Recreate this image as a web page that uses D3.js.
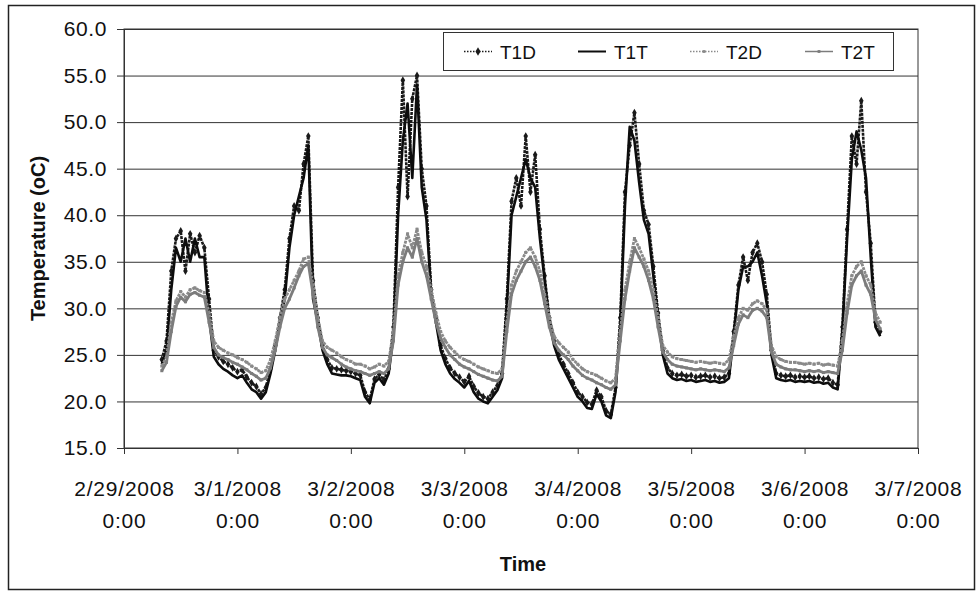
<!DOCTYPE html>
<html lang="en">
<head>
<meta charset="UTF-8" />
<title>Temperature</title>
<style>
body { margin: 0; background: #fff; }
#chart { display: block; }
text { font-family: "Liberation Sans", Arial, sans-serif; fill: #111; }
</style>
</head>
<body>
<svg id="chart" width="978" height="594"></svg>
<script src="https://cdnjs.cloudflare.com/ajax/libs/d3/7.8.5/d3.min.js"></script>
<script>
// hourly readings, first one at 2/29/2008 8:00, last at 3/6/2008 16:00
const startTime = new Date(2008, 1, 29, 8);
const seriesNames = ["T1D", "T1T", "T2D", "T2T"];
const yTicks = [15, 20, 25, 30, 35, 40, 45, 50, 55, 60];

const t1d = [
  24.5, 26.5, 34, 37.5, 38.3, 34, 38, 36, 37.8, 36.5, 31, 25.5, 24.8, 24.3, 24, 23.6,
  23.2, 23.4, 22.6, 22, 21.6, 20.8, 21.5, 23.5, 26, 29, 32, 37.5, 41, 40.5, 45.5, 48.5, 33, 29, 26, 24.5, 23.6, 23.5, 23.4, 23.3,
  23.2, 23, 22.8, 21, 20.2, 22.4, 22.9, 22.3, 23.5, 28, 43, 54.5, 42, 52.5, 55, 45, 41, 32, 29, 26, 24.6, 23.6, 23, 22.6,
  22.1, 22.7, 21.6, 20.9, 20.5, 20.3, 21, 21.7, 23, 31, 41.5, 44, 41, 48.5, 42.5, 46.5, 38.5, 33.5, 29, 26.5, 25, 24, 23, 22,
  21, 20.5, 19.9, 19.7, 21.2, 20.5, 19, 18.6, 21.5, 29, 42.5, 47.5, 51, 45.5, 40.5, 39, 34.5, 29.5, 25.5, 23.6, 23, 22.8, 22.9, 22.7,
  22.8, 22.6, 22.7, 22.8, 22.6, 22.7, 22.5, 22.6, 23, 27.5, 32.5, 35.5, 33, 36, 37, 35, 31.5, 25.5, 23, 22.8, 22.7, 22.8, 22.6, 22.7,
  22.6, 22.7, 22.5, 22.6, 22.4, 22.5, 22, 21.8, 28, 38.5, 48.5, 45.5, 52.3, 42.5, 37, 28.5, 27.5
];
const t1t = [
  24, 25.5, 32, 36.5, 35, 37.5, 35, 37.5, 35.5, 35.5, 29, 24.8, 24, 23.5, 23.2, 22.8,
  22.5, 22.8, 22, 21.3, 21, 20.3, 21, 23, 25.5, 28.5, 31, 36.5, 40, 42, 44, 47.5, 31, 28.5, 25.5, 24, 23, 22.9, 22.8, 22.8,
  22.7, 22.5, 22.3, 20.5, 19.8, 22, 22.5, 21.8, 23, 27, 40, 48, 52, 44, 54, 43, 39.5, 31.5, 28.5, 25.5, 24, 23, 22.4, 22,
  21.5, 22.2, 21, 20.3, 20, 19.8, 20.5, 21.2, 22.5, 30, 40, 42, 44, 46, 44, 43, 37.5, 33, 28.5, 26, 24.5, 23.5, 22.5, 21.5,
  20.5, 20, 19.3, 19.2, 20.8, 20, 18.5, 18.2, 21, 28, 41, 49.5, 48, 43.5, 39.5, 38, 33.5, 29, 25, 23, 22.5, 22.3, 22.4, 22.2,
  22.3, 22.1, 22.2, 22.3, 22.1, 22.2, 22, 22.1, 22.5, 27, 32, 34.5, 34.5, 35, 36, 33.5, 30.5, 25, 22.5, 22.3, 22.2, 22.3, 22.1, 22.2,
  22.1, 22.2, 22, 22.1, 21.9, 22, 21.5, 21.3, 27.5, 37.5, 46, 49, 47, 44, 35.5, 28, 27
];
const t2d = [
  23.8, 24.8, 28.5, 30.8, 31.8, 31.2, 32, 32.2, 31.9, 31.7, 29.5, 26.5, 25.8, 25.5, 25.2, 25,
  24.7, 24.5, 24.2, 23.8, 23.5, 23.1, 23.3, 24.5, 26.5, 29, 31, 32, 33, 34, 35.3, 35.5, 32.5, 29, 26.5, 25.8, 25.5, 25.2, 24.8, 24.5,
  24.3, 24, 24, 23.8, 23.5, 23.7, 24, 23.8, 24.3, 27.5, 33.5, 36, 38, 36.5, 38.5, 36, 34.5, 32, 29.5, 27.5, 26.5, 25.8, 25.3, 24.8,
  24.5, 24.3, 24, 23.7, 23.5, 23.3, 23.1, 23, 23.5, 28.5, 32.5, 34, 35, 36, 36.5, 35.5, 34, 31.5, 29, 27, 26.3, 25.8, 25.3, 24.5,
  24, 23.5, 23.2, 23, 22.8, 22.5, 22.2, 22, 22.5, 27.5, 32, 35, 37.5, 36.5, 35.3, 34, 32, 29, 26, 25.3, 24.8, 24.6, 24.5, 24.4,
  24.3, 24.2, 24.3, 24.2, 24.1, 24.2, 24.1, 24, 24.5, 27, 29, 30, 29.8, 30.5, 30.8, 30.5, 29.8, 26, 24.8, 24.5, 24.3, 24.2, 24.2, 24.1,
  24, 24.1, 24, 24.1, 23.9, 24, 23.9, 23.8, 26.5, 30.5, 33.5, 34.5, 35, 33.5, 32.5, 29.5, 28.5
];
const t2t = [
  23.3, 24.2, 27.5, 30.2, 31.2, 30.7, 31.5, 31.7, 31.4, 31.2, 28.5, 25.8, 25, 24.7, 24.5, 24.2,
  24, 23.7, 23.4, 23, 22.7, 22.3, 22.5, 23.6, 25.5, 28, 30, 31, 32.2, 33.5, 34.5, 34.8, 31.5, 28, 25.8, 25, 24.7, 24.4, 24, 23.7,
  23.5, 23.3, 23.2, 23, 22.8, 23, 23.2, 23, 23.5, 26.5, 32.5, 35, 36.5, 35.5, 37.5, 35, 33.5, 31, 28.5, 26.8, 25.8, 25, 24.5, 24,
  23.7, 23.5, 23.2, 22.9, 22.7, 22.5, 22.3, 22.2, 22.7, 27.5, 31.5, 33, 34, 35, 35.5, 34.5, 33, 30.5, 28, 26.3, 25.5, 25, 24.5, 23.8,
  23.3, 22.8, 22.5, 22.3, 22, 21.8, 21.5, 21.3, 21.8, 26.5, 31, 34, 36.5, 35.5, 34.5, 33, 31, 28, 25.3, 24.5, 24, 23.8, 23.7, 23.6,
  23.5, 23.4, 23.5, 23.4, 23.3, 23.4, 23.3, 23.2, 23.6, 26, 28.3, 29.3, 29, 29.8, 30, 29.7, 29, 25.3, 24, 23.7, 23.5, 23.4, 23.4, 23.3,
  23.2, 23.3, 23.2, 23.3, 23.1, 23.2, 23.1, 23, 25.5, 29.5, 32.5, 33.5, 34, 32.5, 31.5, 28.8, 27.8
];

const seriesValues = [t1d, t1t, t2d, t2t];
const colors = ["#1a1a1a", "#0d0d0d", "#8a8a8a", "#7c7c7c"];
const dashes = ["3,1", null, "3,1", null];

const svg = d3.select("#chart");
const margin = { top: 29, left: 124, right: 60, bottom: 146 };
const W = 978, H = 594;
const width = W - margin.left - margin.right;
const height = H - margin.top - margin.bottom;

// outer frame
svg.append("rect").attr("x", 8.5).attr("y", 5.5).attr("width", 966).attr("height", 584)
  .attr("fill", "none").attr("stroke", "#222").attr("stroke-width", 1.5);

const x = d3.scaleTime()
  .domain([new Date(2008, 1, 29), new Date(2008, 2, 7)])
  .range([0, width]);
const y = d3.scaleLinear().domain([15, 60]).range([height, 0]);

const g = svg.append("g").attr("transform", `translate(${margin.left},${margin.top})`);

// gridlines
g.append("g")
  .call(d3.axisLeft(y).tickValues(yTicks).tickSize(-width).tickFormat(""))
  .call(a => a.select(".domain").remove())
  .selectAll("line").attr("stroke", "#333").attr("stroke-width", 1);

// plot frame
g.append("rect").attr("width", width).attr("height", height)
  .attr("fill", "none").attr("stroke", "#333").attr("stroke-width", 1);

// y axis
const yAxis = g.append("g")
  .call(d3.axisLeft(y).tickValues(yTicks).tickSize(7).tickPadding(10).tickFormat(d3.format(".1f")));
yAxis.select(".domain").attr("stroke", "#333");
yAxis.selectAll("line").attr("stroke", "#333");
yAxis.selectAll("text").attr("font-size", 21).attr("letter-spacing", 0.6).attr("fill", "#111");

// x axis
const days = d3.timeDay.range(new Date(2008, 1, 29), new Date(2008, 2, 8));
const xAxis = g.append("g").attr("transform", `translate(0,${height})`)
  .call(d3.axisBottom(x).tickValues(days).tickSize(6).tickFormat(""));
xAxis.select(".domain").attr("stroke", "#333");
xAxis.selectAll("line").attr("stroke", "#333");
const fmt = d3.timeFormat("%-m/%-d/%Y");
xAxis.selectAll(".tick").append("text")
  .attr("text-anchor", "middle").attr("font-size", 21).attr("letter-spacing", 0.8).attr("fill", "#111")
  .each(function (d) {
    const t = d3.select(this);
    t.append("tspan").attr("x", 0).attr("y", 48).text(fmt(d));
    t.append("tspan").attr("x", 0).attr("y", 80).text("0:00");
  });

// axis titles
svg.append("text").attr("x", 523).attr("y", 571).attr("text-anchor", "middle")
  .attr("font-size", 20).attr("font-weight", "bold").text("Time");
svg.append("text").attr("transform", `translate(45,${margin.top + height / 2}) rotate(-90)`)
  .attr("text-anchor", "middle").attr("font-size", 20).attr("font-weight", "bold")
  .text("Temperature (oC)");

// series
const line = d3.line()
  .x((d, i) => x(d3.timeHour.offset(startTime, i)))
  .y(d => y(d));

const symbols = [d3.symbolDiamond, null, d3.symbolSquare, d3.symbolSquare];
const symSize = [18, 0, 9, 9];

seriesValues.forEach((vals, k) => {
  const sg = g.append("g");
  sg.append("path").datum(vals)
    .attr("d", line)
    .attr("fill", "none")
    .attr("stroke", colors[k])
    .attr("stroke-width", k < 2 ? 2.6 : 2.8)
    .attr("stroke-linejoin", "round")
    .attr("stroke-dasharray", dashes[k]);
  if (symbols[k]) {
    sg.selectAll("path.m").data(vals).join("path").attr("class", "m")
      .attr("transform", (d, i) => `translate(${x(d3.timeHour.offset(startTime, i))},${y(d)})`)
      .attr("d", d3.symbol(symbols[k], symSize[k]))
      .attr("fill", colors[k]);
  }
});

// legend
const legend = svg.append("g");
legend.append("rect").attr("x", 443.5).attr("y", 32.5).attr("width", 450).attr("height", 38)
  .attr("fill", "#fff").attr("stroke", "#333").attr("stroke-width", 1);
const legX = [464, 578, 690, 805];
seriesNames.forEach((name, k) => {
  const lx = legX[k];
  legend.append("line").attr("x1", lx).attr("x2", lx + 28).attr("y1", 51.5).attr("y2", 51.5)
    .attr("stroke", colors[k]).attr("stroke-width", k === 1 ? 2 : 1.5)
    .attr("stroke-dasharray", dashes[k] ? "1.5,1.5" : null);
  if (symbols[k]) {
    legend.append("path").attr("transform", `translate(${lx + 14},51.5)`)
      .attr("d", d3.symbol(symbols[k], k === 0 ? 22 : 8)).attr("fill", colors[k]);
  }
  legend.append("text").attr("x", lx + 36).attr("y", 58.5).attr("font-size", 19)
    .text(name);
});
</script>
</body>
</html>
